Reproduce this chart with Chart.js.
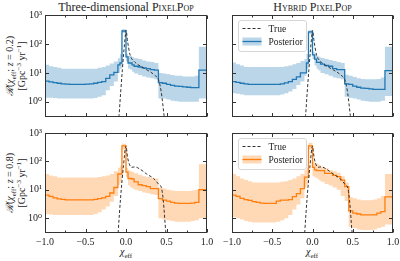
<!DOCTYPE html>
<html lang="en">
<head>
<meta charset="UTF-8">
<title>PixelPop chi_eff</title>
<script src="https://cdn.jsdelivr.net/npm/chart.js"></script>
<style>
    * { margin: 0; padding: 0; box-sizing: border-box; }
    body {
        width: 400px; height: 261px; position: relative; overflow: hidden;
        background: #fff; color: #222;
        font-family: 'Liberation Serif', 'DejaVu Serif', serif;
    }
    canvas { position: absolute; }
    .title { position: absolute; top: 0; text-align: center; font-size: 12px; line-height: 14px; }
    .sc { font-variant: small-caps; }
    .ylab {
        position: absolute; width: 110px; height: 24px; text-align: center;
        font-size: 10px; line-height: 12px; transform: rotate(-90deg);
    }
    .xlab { position: absolute; width: 60px; text-align: center; font-size: 10px; line-height: 14px; top: 245px; }
    sub, sup { font-size: 7px; line-height: 0; }
</style>
</head>
<body>
    <div class="title" style="left:45px;width:162px">Three-dimensional <span class="sc">PixelPop</span></div>
    <div class="title" style="left:232px;width:161px"><span class="sc">Hybrid PixelPop</span></div>

    <div class="ylab" style="left:-39px;top:54px"><i>ℛ</i>(<i>χ</i><sub>eff</sub>; <i>z</i> = 0.2)<br>[Gpc<sup>−3</sup> yr<sup>−1</sup>]</div>
    <div class="ylab" style="left:-39px;top:171px"><i>ℛ</i>(<i>χ</i><sub>eff</sub>; <i>z</i> = 0.8)<br>[Gpc<sup>−3</sup> yr<sup>−1</sup>]</div>

    <div class="xlab" style="left:96px"><i>χ</i><sub>eff</sub></div>
    <div class="xlab" style="left:282px"><i>χ</i><sub>eff</sub></div>

    <canvas id="tl" width="215" height="125" style="left:0;top:0"></canvas>
    <canvas id="tr" width="185" height="125" style="left:215px;top:0"></canvas>
    <canvas id="bl" width="215" height="136" style="left:0;top:125px"></canvas>
    <canvas id="br" width="185" height="136" style="left:215px;top:125px"></canvas>

<script>
    // bin edges of the step histograms (finer around the spike at 0)
    const binEdges = [-1.0, -0.95, -0.9, -0.85, -0.8, -0.75, -0.7, -0.65, -0.6, -0.55, -0.5, -0.45, -0.4, -0.35, -0.3, -0.25, -0.2, -0.15, -0.1,
        -0.075, -0.05, -0.025, 0.0, 0.025, 0.05, 0.075, 0.1,
        0.15, 0.2, 0.25, 0.3, 0.35, 0.4, 0.45, 0.5, 0.55, 0.6, 0.65, 0.7, 0.75, 0.8, 0.85, 0.9, 0.95, 1.0];

    // three-dimensional PixelPop, z = 0.2
    const med3D_z02 = [12.9, 5.2, 4.9, 4.6, 4.4, 4.2, 4.1, 4.0, 4.0, 4.0, 4.0, 4.1, 4.2, 4.4, 4.7, 5.0, 6.5, 8.5, 10.5, 19, 22, 280, 280, 36, 22, 22, 19, 17, 16, 15, 14, 13, 12.5, 4.6, 4.4, 4.0, 3.7, 3.5, 3.4, 3.3, 3.2, 3.1, 3.1, 12.5];
    const hi3D_z02 = [80, 19, 17, 16, 15, 14, 14, 14, 14, 14, 14, 14, 14, 14, 15, 16, 18, 21, 25, 32, 45, 320, 320, 45, 38, 38, 35, 32, 30, 27, 25, 24, 22, 10, 9.5, 9, 8.5, 8, 8, 7.5, 7.5, 7.5, 8, 80];
    const lo3D_z02 = [1.3, 1.4, 1.4, 1.35, 1.3, 1.3, 1.3, 1.3, 1.3, 1.3, 1.3, 1.3, 1.3, 1.35, 1.5, 1.7, 2.5, 3.5, 5, 10, 14, 240, 240, 25, 14, 13, 11, 9.5, 8.5, 7.5, 7, 6.5, 6, 1.3, 1.3, 1.2, 1.1, 1.05, 1.0, 1.0, 1.0, 1.0, 1.0, 1.3];

    // hybrid PixelPop, z = 0.2
    const medHy_z02 = [7.7, 5.0, 4.7, 4.4, 4.2, 4.0, 4.0, 4.0, 4.0, 4.0, 4.0, 4.0, 4.0, 4.2, 4.5, 5.0, 6.0, 7.3, 10, 10, 22, 260, 260, 42, 30, 23, 23, 20, 18, 17, 14, 13, 13, 4.2, 4.0, 3.5, 3.2, 3.0, 2.9, 2.8, 2.7, 2.7, 2.7, 12];
    const hiHy_z02 = [80, 23, 20, 18, 16, 16, 16, 16, 16, 16, 16, 16, 16, 16, 17, 18, 20, 22, 26, 30, 45, 300, 300, 55, 45, 38, 36, 33, 30, 28, 26, 24, 22, 8.7, 8, 7.2, 6.6, 6.2, 6, 6, 6, 6.2, 7, 80];
    const loHy_z02 = [2.0, 2.0, 1.9, 1.8, 1.7, 1.7, 1.7, 1.7, 1.7, 1.7, 1.7, 1.7, 1.7, 1.8, 2.0, 2.3, 2.8, 3.8, 5, 8, 14, 220, 220, 30, 18, 14, 12, 10, 9, 8, 7, 6.5, 6, 1.5, 1.4, 1.3, 1.2, 1.1, 1.05, 1.0, 1.0, 1.0, 1.1, 1.6];

    // three-dimensional PixelPop, z = 0.8
    const med3D_z08 = [15, 6.5, 5.9, 5.2, 4.8, 4.6, 4.4, 4.4, 4.4, 4.4, 4.4, 4.4, 4.4, 4.6, 4.9, 5.2, 5.9, 7.7, 12, 36, 36, 350, 350, 42, 25, 25, 24, 19, 15, 14, 13, 11, 11, 4.9, 4.3, 4.0, 3.6, 3.4, 3.3, 3.3, 3.3, 3.4, 3.6, 10];
    const hi3D_z08 = [105, 36, 32, 30, 27, 27, 27, 27, 27, 27, 27, 27, 27, 27, 28, 30, 32, 36, 45, 60, 70, 420, 420, 60, 50, 45, 42, 38, 34, 30, 28, 26, 25, 12, 11, 10, 9.5, 9, 9, 9, 9, 9.5, 10, 80];
    const lo3D_z08 = [1.4, 1.4, 1.35, 1.3, 1.3, 1.3, 1.3, 1.3, 1.3, 1.3, 1.3, 1.3, 1.3, 1.4, 1.6, 2.0, 2.6, 3.8, 6, 15, 18, 260, 260, 28, 14, 12, 11, 10, 9, 8, 7.5, 7, 6.5, 1.0, 0.9, 0.85, 0.8, 0.75, 0.75, 0.75, 0.75, 0.8, 0.85, 1.0];

    // hybrid PixelPop, z = 0.8
    const medHy_z08 = [14, 6.5, 5.9, 5.0, 4.5, 4.2, 3.8, 3.6, 3.4, 3.3, 3.3, 3.3, 4.0, 4.3, 4.3, 4.5, 5.7, 7.3, 11, 28, 28, 350, 350, 62, 50, 47, 47, 47, 38, 38, 32, 29, 22, 13, 1.8, 1.5, 1.4, 1.3, 1.3, 1.3, 1.3, 1.5, 1.7, 5.6];
    const hiHy_z08 = [105, 36, 30, 25, 22, 20, 18, 18, 18, 18, 18, 18, 18, 19, 20, 22, 25, 30, 36, 50, 60, 450, 450, 100, 90, 85, 75, 65, 57, 50, 45, 40, 30, 18, 5.5, 5.0, 4.5, 4.3, 4.3, 4.3, 4.5, 5, 6, 36];
    const loHy_z08 = [0.3, 1.1, 1.0, 0.9, 0.8, 0.75, 0.7, 0.7, 0.7, 0.7, 0.7, 0.7, 0.75, 0.85, 1.0, 1.3, 2, 3, 5, 12, 15, 260, 260, 30, 27, 25, 22, 19, 16, 14, 12, 10, 6, 4, 0.5, 0.45, 0.4, 0.38, 0.38, 0.38, 0.4, 0.45, 0.5, 0.6];

    // true distributions
    const trueX_z02 = [-0.095, -0.086, -0.066, -0.045, -0.025, -0.004, 0.0, 0.02, 0.05, 0.1, 0.18, 0.26, 0.346, 0.407, 0.436, 0.47, 0.48];
    const trueY_z02 = [0.2, 0.34, 2.1, 13, 62, 257, 300, 120, 42, 25, 17, 12.6, 8.7, 5.2, 2.1, 0.34, 0.2];
    const trueX_z08 = [-0.1, -0.095, -0.066, -0.033, 0.0, 0.02, 0.07, 0.11, 0.17, 0.255, 0.34, 0.4, 0.44, 0.46, 0.49, 0.5];
    const trueY_z08 = [0.2, 0.36, 5.6, 62, 350, 134, 62, 64, 54, 36, 25, 16, 11, 4.3, 0.36, 0.2];

    const seriesLabels = ['True', 'Posterior'];
    const xTickValues = [-1, -0.5, 0, 0.5, 1];
    const xMinorTicks = [-0.75, -0.25, 0.25, 0.75];
    const yTickValues = [1, 10, 100, 1000];
    const yTickLabels = ['10⁰', '10¹', '10²', '10³'];

    const blue = '#1f77b4', blueBand = 'rgba(31,119,180,0.3)';
    const orange = '#ff7f0e', orangeBand = 'rgba(255,127,14,0.3)';
    const floorVal = 0.01; // below the axis, so the step line runs off the frame at the ends

    Chart.defaults.font.family = '"Liberation Serif", "DejaVu Serif", serif';
    Chart.defaults.color = '#222';

    function steps(vals) {
        const pts = vals.map((v, i) => ({ x: binEdges[i], y: v }));
        pts.push({ x: binEdges[binEdges.length - 1], y: vals[vals.length - 1] });
        return pts;
    }

    function medianSteps(vals) {
        const pts = steps(vals);
        pts.unshift({ x: binEdges[0], y: floorVal });
        pts.push({ x: binEdges[binEdges.length - 1], y: floorVal });
        return pts;
    }

    // box round the axes with inward ticks, like matplotlib
    const frame = {
        id: 'frame',
        afterDatasetsDraw(chart) {
            const { ctx, chartArea: a, scales } = chart;
            const l = Math.round(a.left) + 0.5, r = Math.round(a.right) - 0.5;
            const t = Math.round(a.top) + 0.5, b = Math.round(a.bottom) - 0.5;
            ctx.save();
            ctx.strokeStyle = '#333';
            ctx.lineWidth = 1;
            ctx.strokeRect(l, t, r - l, b - t);
            ctx.beginPath();
            xTickValues.forEach(v => {
                const px = Math.round(scales.x.getPixelForValue(v)) + 0.5;
                ctx.moveTo(px, b); ctx.lineTo(px, b - 3.5);
                ctx.moveTo(px, t); ctx.lineTo(px, t + 3.5);
            });
            xMinorTicks.forEach(v => {
                const px = Math.round(scales.x.getPixelForValue(v)) + 0.5;
                ctx.moveTo(px, b); ctx.lineTo(px, b - 2);
                ctx.moveTo(px, t); ctx.lineTo(px, t + 2);
            });
            yTickValues.forEach(v => {
                const py = Math.round(scales.y.getPixelForValue(v)) + 0.5;
                ctx.moveTo(l, py); ctx.lineTo(l + 3.5, py);
                ctx.moveTo(r, py); ctx.lineTo(r - 3.5, py);
            });
            ctx.stroke();
            ctx.restore();
        }
    };

    const legendBox = {
        id: 'legendBox',
        afterDraw(chart, args, opts) {
            if (!opts.show) return;
            const { ctx, chartArea: a } = chart;
            const ds = chart.data.datasets;
            const bx = Math.round(a.left) + 6.5, by = Math.round(a.top) + 5.5, bw = 68, bh = 31;
            ctx.save();
            ctx.beginPath();
            ctx.roundRect(bx, by, bw, bh, 2.5);
            ctx.fillStyle = 'rgba(255,255,255,0.8)';
            ctx.fill();
            ctx.strokeStyle = '#d6d6d6';
            ctx.lineWidth = 1;
            ctx.stroke();

            ctx.strokeStyle = ds[0].borderColor;
            ctx.lineWidth = 1;
            ctx.setLineDash([3, 2]);
            ctx.beginPath();
            ctx.moveTo(bx + 4, by + 8); ctx.lineTo(bx + 22, by + 8);
            ctx.stroke();
            ctx.setLineDash([]);

            ctx.fillStyle = ds[2].backgroundColor;
            ctx.fillRect(bx + 4, by + 17, 19, 8);
            ctx.strokeStyle = ds[1].borderColor;
            ctx.lineWidth = 1.3;
            ctx.beginPath();
            ctx.moveTo(bx + 4, by + 21); ctx.lineTo(bx + 23, by + 21);
            ctx.stroke();

            ctx.fillStyle = '#222';
            ctx.font = '9.5px "Liberation Serif", serif';
            ctx.textBaseline = 'middle';
            ctx.fillText(ds[0].label, bx + 30, by + 8.5);
            ctx.fillText(ds[1].label, bx + 30, by + 21.5);
            ctx.restore();
        }
    };

    function makePanel(id, cfg) {
        const datasets = [
            {
                label: seriesLabels[0],
                data: cfg.trueX.map((x, i) => ({ x: x, y: cfg.trueY[i] })),
                borderColor: '#333',
                borderWidth: 1,
                borderDash: [3, 2],
                pointRadius: 0,
                fill: false,
                cubicInterpolationMode: 'monotone'
            },
            {
                label: seriesLabels[1],
                data: medianSteps(cfg.med),
                stepped: 'after',
                borderColor: cfg.color,
                borderWidth: 1.3,
                pointRadius: 0,
                fill: false
            },
            {
                label: 'upper',
                data: steps(cfg.hi),
                stepped: 'after',
                borderColor: 'rgba(0,0,0,0)',
                borderWidth: 0,
                backgroundColor: cfg.band,
                pointRadius: 0,
                fill: '+1'
            },
            {
                label: 'lower',
                data: steps(cfg.lo),
                stepped: 'after',
                borderColor: 'rgba(0,0,0,0)',
                borderWidth: 0,
                pointRadius: 0,
                fill: false
            }
        ];

        new Chart(document.getElementById(id), {
            type: 'line',
            data: { datasets: datasets },
            options: {
                responsive: false,
                animation: false,
                events: [],
                layout: { padding: cfg.pad },
                scales: {
                    x: {
                        type: 'linear',
                        min: -1,
                        max: 1,
                        display: cfg.xAxis,
                        grid: { display: false, drawTicks: false },
                        border: { display: false },
                        afterBuildTicks: s => { s.ticks = xTickValues.map(v => ({ value: v })); },
                        afterFit: s => {
                            if (cfg.xAxis) s.height = 28;
                            s.paddingLeft = 0; s.paddingRight = 0;
                        },
                        ticks: {
                            autoSkip: false,
                            maxRotation: 0,
                            padding: 3,
                            font: { size: 10 },
                            callback: v => (v < 0 ? '−' : '') + Math.abs(v).toFixed(1)
                        }
                    },
                    y: {
                        type: 'logarithmic',
                        min: 0.34,
                        max: 1000,
                        display: cfg.yAxis,
                        grid: { display: false, drawTicks: false },
                        border: { display: false },
                        afterBuildTicks: s => { s.ticks = yTickValues.map(v => ({ value: v })); },
                        afterFit: s => {
                            if (cfg.yAxis) s.width = 45;
                            s.paddingTop = 0; s.paddingBottom = 0;
                        },
                        ticks: {
                            padding: 3,
                            font: { size: 10 },
                            callback: v => yTickLabels[yTickValues.indexOf(v)]
                        }
                    }
                },
                plugins: {
                    legend: { display: false },
                    tooltip: { enabled: false },
                    legendBox: { show: cfg.legend }
                }
            },
            plugins: [frame, legendBox]
        });
    }

    makePanel('tl', {
        med: med3D_z02, hi: hi3D_z02, lo: lo3D_z02, trueX: trueX_z02, trueY: trueY_z02,
        color: blue, band: blueBand, xAxis: false, yAxis: true, legend: false,
        pad: { left: 0, right: 8, top: 15, bottom: 8 }
    });
    makePanel('tr', {
        med: medHy_z02, hi: hiHy_z02, lo: loHy_z02, trueX: trueX_z02, trueY: trueY_z02,
        color: blue, band: blueBand, xAxis: false, yAxis: false, legend: true,
        pad: { left: 17, right: 7, top: 15, bottom: 8 }
    });
    makePanel('bl', {
        med: med3D_z08, hi: hi3D_z08, lo: lo3D_z08, trueX: trueX_z08, trueY: trueY_z08,
        color: orange, band: orangeBand, xAxis: true, yAxis: true, legend: false,
        pad: { left: 0, right: 8, top: 8, bottom: 0 }
    });
    makePanel('br', {
        med: medHy_z08, hi: hiHy_z08, lo: loHy_z08, trueX: trueX_z08, trueY: trueY_z08,
        color: orange, band: orangeBand, xAxis: true, yAxis: false, legend: true,
        pad: { left: 17, right: 7, top: 8, bottom: 0 }
    });
</script>
</body>
</html>
